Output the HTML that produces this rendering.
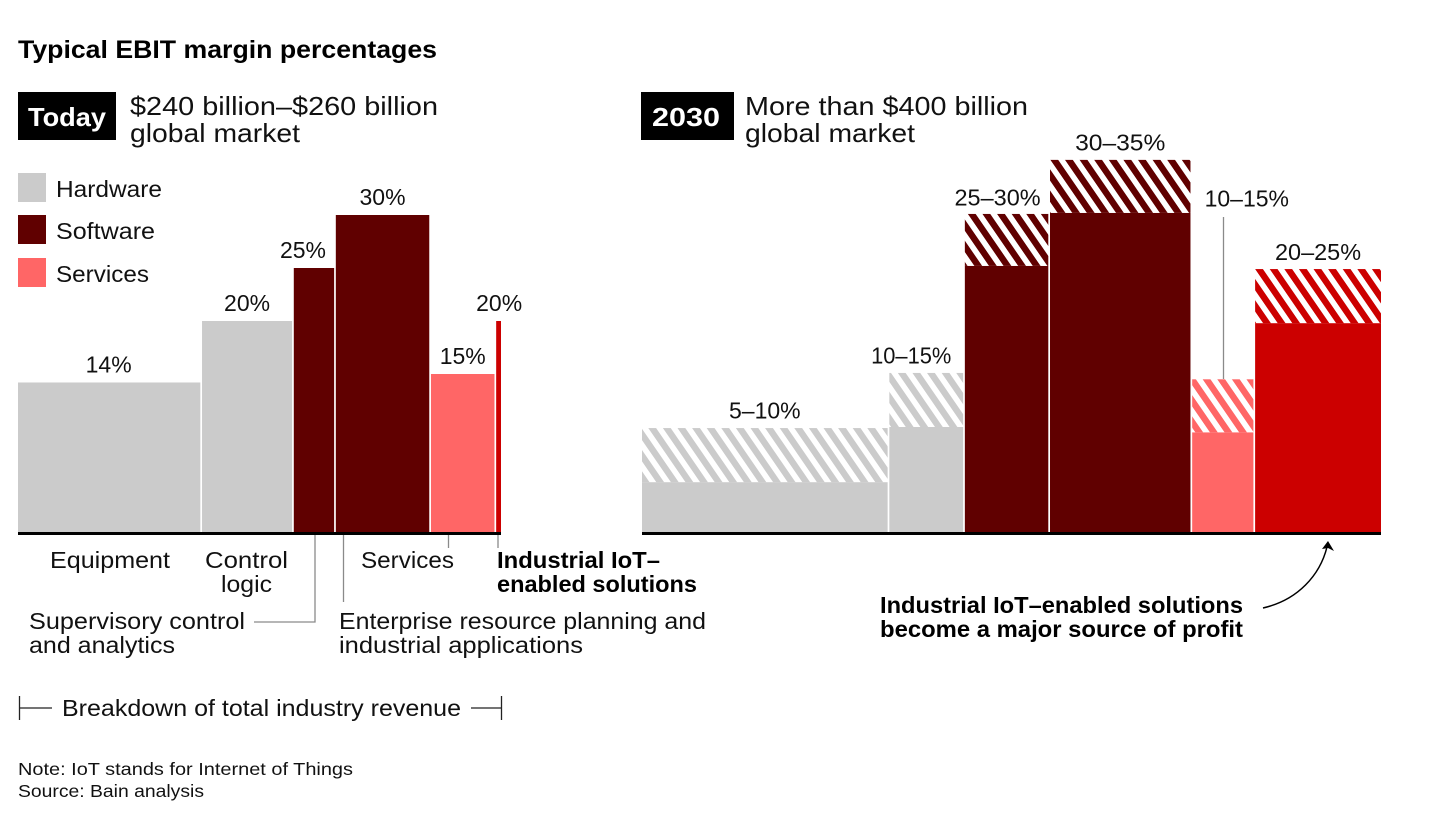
<!DOCTYPE html>
<html lang="en">
<head>
<meta charset="utf-8">
<title>Typical EBIT margin percentages</title>
<style>
html,body{margin:0;padding:0;background:#fff;width:1456px;height:813px;overflow:hidden}
svg{display:block}
text{font-family:"Liberation Sans",sans-serif;fill:#111}
.r{font-size:23px}
.b{font-size:23px;font-weight:700;fill:#000}
.h{font-size:26px}
.n{font-size:17.5px}
.leader{stroke:#8a8a8a;stroke-width:1.3;fill:none}
.tick{stroke:#222;stroke-width:1.3;fill:none}
</style>
</head>
<body>
<svg id="chart" width="1456" height="813" viewBox="0 0 1456 813" xmlns="http://www.w3.org/2000/svg">
<defs id="chart-defs"></defs>

<text x="18" y="58" font-size="25" font-weight="700" style="fill:#000" textLength="419" lengthAdjust="spacingAndGlyphs">Typical EBIT margin percentages</text>

<rect x="18" y="92" width="98" height="48" fill="#000"/>
<text x="28" y="126" font-size="26" font-weight="700" style="fill:#fff" textLength="78" lengthAdjust="spacingAndGlyphs">Today</text>
<text class="h" x="130" y="115" textLength="308" lengthAdjust="spacingAndGlyphs">$240 billion–$260 billion</text>
<text class="h" x="130" y="142" textLength="170" lengthAdjust="spacingAndGlyphs">global market</text>

<rect x="641" y="92" width="93" height="48" fill="#000"/>
<text x="652" y="126" font-size="26" font-weight="700" style="fill:#fff" textLength="68" lengthAdjust="spacingAndGlyphs">2030</text>
<text class="h" x="745" y="115" textLength="283" lengthAdjust="spacingAndGlyphs">More than $400 billion</text>
<text class="h" x="745" y="142" textLength="170" lengthAdjust="spacingAndGlyphs">global market</text>

<rect x="18" y="173" width="28" height="29" fill="#cbcbcb"/>
<text class="r" x="56" y="197" textLength="106" lengthAdjust="spacingAndGlyphs">Hardware</text>
<rect x="18" y="215" width="28" height="29" fill="#600000"/>
<text class="r" x="56" y="239" textLength="99" lengthAdjust="spacingAndGlyphs">Software</text>
<rect x="18" y="258" width="28" height="29" fill="#ff6666"/>
<text class="r" x="56" y="282" textLength="93" lengthAdjust="spacingAndGlyphs">Services</text>

<g id="today-bars"></g>
<g id="future-bars"></g>

<rect x="18" y="532" width="483" height="3" fill="#000"/>
<rect x="642" y="532" width="739" height="3" fill="#000"/>

<text class="r" x="50" y="568" textLength="120" lengthAdjust="spacingAndGlyphs">Equipment</text>
<text class="r" x="205" y="568" textLength="83" lengthAdjust="spacingAndGlyphs">Control</text>
<text class="r" x="221" y="592" textLength="51" lengthAdjust="spacingAndGlyphs">logic</text>
<text class="r" x="361" y="568" textLength="93" lengthAdjust="spacingAndGlyphs">Services</text>
<text class="b" x="497" y="568" textLength="163" lengthAdjust="spacingAndGlyphs">Industrial IoT–</text>
<text class="b" x="497" y="592" textLength="200" lengthAdjust="spacingAndGlyphs">enabled solutions</text>
<text class="r" x="29" y="629" textLength="216" lengthAdjust="spacingAndGlyphs">Supervisory control</text>
<text class="r" x="29" y="653" textLength="146" lengthAdjust="spacingAndGlyphs">and analytics</text>
<text class="r" x="339" y="629" textLength="367" lengthAdjust="spacingAndGlyphs">Enterprise resource planning and</text>
<text class="r" x="339" y="653" textLength="244" lengthAdjust="spacingAndGlyphs">industrial applications</text>

<path class="leader" d="M315 535V622H254"/>
<path class="leader" d="M343.500 535V602"/>
<path class="leader" d="M448.500 535V548"/>
<path class="leader" d="M498 535V548"/>
<path class="leader" d="M1223.500 217V379"/>

<path class="tick" d="M19.500 696V720M19.500 708H52"/>
<text class="r" x="62" y="716" textLength="399" lengthAdjust="spacingAndGlyphs">Breakdown of total industry revenue</text>
<path class="tick" d="M471 708H501.500M501.500 696V720"/>

<text class="b" x="880" y="613" textLength="363" lengthAdjust="spacingAndGlyphs">Industrial IoT–enabled solutions</text>
<text class="b" x="880" y="637" textLength="363" lengthAdjust="spacingAndGlyphs">become a major source of profit</text>
<path d="M1263 608C1298 600 1320 575 1327 547" fill="none" stroke="#000" stroke-width="1.5"/>
<path d="M1328 541L1334 551L1328 548L1322 549Z" fill="#000"/>

<text class="n" x="18" y="775" textLength="335" lengthAdjust="spacingAndGlyphs">Note: IoT stands for Internet of Things</text>
<text class="n" x="18" y="797" textLength="186" lengthAdjust="spacingAndGlyphs">Source: Bain analysis</text>
</svg>
<script>
// Chart data
const todaySegments = ['Equipment', 'Control logic', 'Supervisory control and analytics', 'Enterprise resource planning and industrial applications', 'Services', 'Industrial IoT-enabled solutions'];
const todayShare = [38.1, 19.0, 8.7, 19.7, 13.5, 1.0];
const todayMargin = [14.2, 20, 25, 30, 15, 20];
const todayLabels = ['14%', '20%', '25%', '30%', '15%', '20%'];
const todayGroup = ['hardware', 'hardware', 'software', 'software', 'services', 'iot'];

const futureSegments = ['Equipment', 'Control logic', 'Supervisory control and analytics', 'Enterprise resource planning and industrial applications', 'Services', 'Industrial IoT-enabled solutions'];
const futureShare = [33.4, 10.2, 11.5, 19.2, 8.5, 17.0];
const futureLow = [4.8, 10, 25.2, 30.2, 9.5, 19.8];
const futureHigh = [9.9, 15.1, 30.1, 35.2, 14.5, 24.9];
const futureLabels = ['5–10%', '10–15%', '25–30%', '30–35%', '10–15%', '20–25%'];
const futureGroup = ['hardware', 'hardware', 'software', 'software', 'services', 'iot'];

const SVG_NS = 'http://www.w3.org/2000/svg';
const fills = {hardware: '#cbcbcb', software: '#600000', services: '#ff6666', iot: '#cc0000'};
const baseY = 533;
const yScale = v => baseY - v * 10.6;
function edgeScale(shares, x0, width) {
  const total = shares.reduce((a, b) => a + b, 0);
  let run = 0;
  const edges = [x0];
  shares.forEach(s => { run += s; edges.push(x0 + run / total * width); });
  return edges;
}
function slug(s) {
  return s.toLowerCase().replace(/[^a-z0-9]+/g, '-');
}
function addRect(parent, x, y, w, h, fill, name) {
  const el = document.createElementNS(SVG_NS, 'rect');
  el.setAttribute('x', x);
  el.setAttribute('y', y);
  el.setAttribute('width', Math.max(w, 0));
  el.setAttribute('height', Math.max(h, 0));
  el.setAttribute('fill', fill);
  
  
  parent.appendChild(el);
}
function addLabel(parent, x, y, txt, stretch, name) {
  const el = document.createElementNS(SVG_NS, 'text');
  el.setAttribute('x', x);
  el.setAttribute('y', y);
  el.setAttribute('text-anchor', 'middle');
  el.setAttribute('class', 'r');
  el.textContent = txt;
  
  
  parent.appendChild(el);
  const w = el.getComputedTextLength();
  el.setAttribute('textLength', (w * stretch).toFixed(1));
  el.setAttribute('lengthAdjust', 'spacingAndGlyphs');
}
function addHatch(id, color, x, y) {
  const p = document.createElementNS(SVG_NS, 'pattern');
  p.setAttribute('id', id);
  p.setAttribute('patternUnits', 'userSpaceOnUse');
  p.setAttribute('width', '14.6');
  p.setAttribute('height', '60');
  p.setAttribute('patternTransform', 'translate(' + x + ' ' + y + ') skewX(34.5)');
  const back = document.createElementNS(SVG_NS, 'rect');
  back.setAttribute('width', '14.6');
  back.setAttribute('height', '60');
  back.setAttribute('fill', '#fff');
  const stripe = document.createElementNS(SVG_NS, 'rect');
  stripe.setAttribute('width', '7.8');
  stripe.setAttribute('height', '60');
  stripe.setAttribute('fill', color);
  p.appendChild(back);
  p.appendChild(stripe);
  document.getElementById('chart-defs').appendChild(p);
}
(function drawToday() {
  const g = document.getElementById('today-bars');
  const edges = edgeScale(todayShare, 18, 483);
  const shifts = [-0.5, 0, -11, 0, 0, 3];
  todayMargin.forEach((v, i) => {
    const gap = i < todayMargin.length - 1 ? 1.7 : 0;
    const top = yScale(v);
    const w = edges[i + 1] - edges[i] - gap;
    addRect(g, edges[i], top, w, baseY - top, fills[todayGroup[i]], 'today-bar-' + slug(todaySegments[i]));
    const cx = i === 5 ? edges[i] : edges[i] + w / 2;
    addLabel(g, cx + shifts[i], top - 10, todayLabels[i], 1, 'today-label-' + slug(todaySegments[i]));
  });
})();
(function drawFuture() {
  const g = document.getElementById('future-bars');
  const edges = edgeScale(futureShare, 642, 739);
  const shifts = [0, -15, -9, 0, 24, 0];
  const lifts = [9.5, 9.5, 8.5, 9.5, 173, 9];
  const stretch = [1, 0.95, 1.02, 1.07, 1, 1.02];
  const phases = [6.3, 8.5, 3, 0.4, 10.5, 0];
  futureLow.forEach((v, i) => {
    const gap = i < futureLow.length - 1 ? 1.7 : 0;
    const w = edges[i + 1] - edges[i] - gap;
    const lowTop = yScale(v);
    const highTop = yScale(futureHigh[i]);
    const hatchId = 'hatch-' + i;
    addHatch(hatchId, fills[futureGroup[i]], edges[i] + phases[i], highTop);
    addRect(g, edges[i], lowTop, w, baseY - lowTop, fills[futureGroup[i]], 'future-bar-' + slug(futureSegments[i]));
    addRect(g, edges[i], highTop, w, lowTop - highTop, 'url(#' + hatchId + ')', 'future-range-' + slug(futureSegments[i]));
    addLabel(g, edges[i] + w / 2 + shifts[i], highTop - lifts[i], futureLabels[i], stretch[i], 'future-label-' + slug(futureSegments[i]));
  });
})();
</script>
</body>
</html>
